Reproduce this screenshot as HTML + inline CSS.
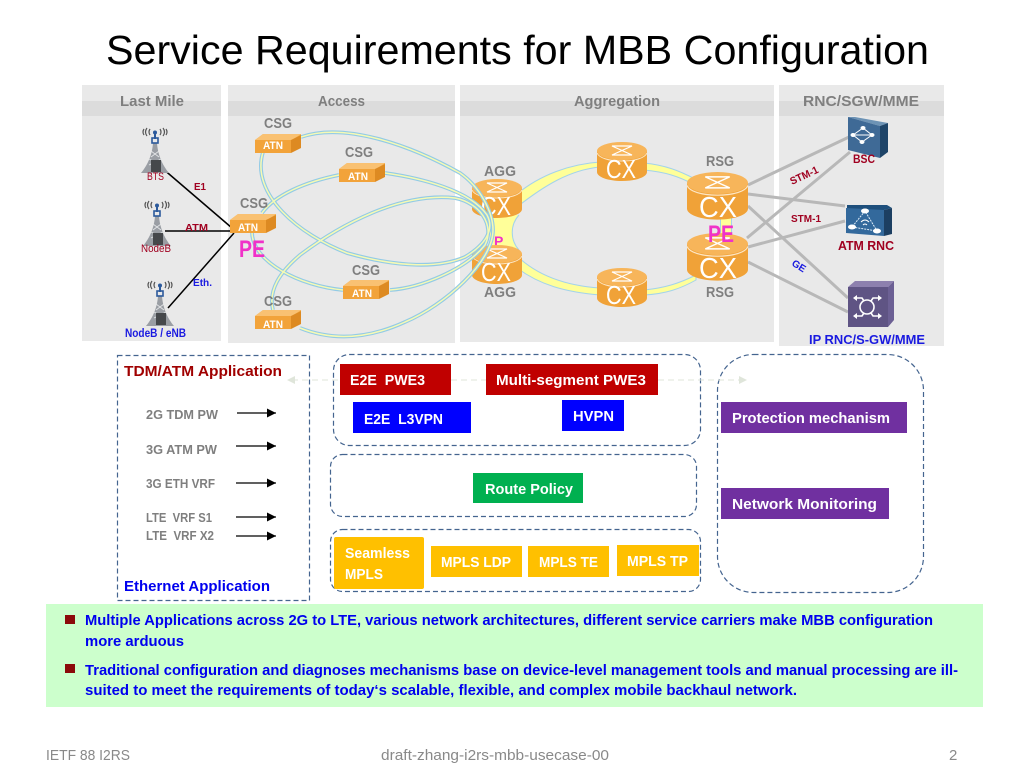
<!DOCTYPE html>
<html><head><meta charset="utf-8"><title>Service Requirements for MBB Configuration</title>
<style>
html,body{margin:0;padding:0;background:#fff;width:1024px;height:768px;overflow:hidden}
svg{display:block}
text{font-family:"Liberation Sans",sans-serif}
.b{font-weight:bold}
.g{font-weight:bold;fill:#7f7f7f;font-size:15px}
.a{font-weight:bold;fill:#fff;font-size:11px}
.w{font-weight:bold;fill:#fff;font-size:15px}
.r{font-weight:bold;fill:#7f7f7f;font-size:12.5px}
.t{font-weight:bold;fill:#0000ee;font-size:15px}
.f{fill:#898989;font-size:15px}
.cx{fill:#fff;font-size:26px}
.box{fill:none;stroke:#44648f;stroke-width:1.2;stroke-dasharray:5 3}
.c1{stroke:#93cbe6;stroke-width:3.8;fill:none}
.c2{stroke:#f6fab4;stroke-width:1.5;fill:none}
.ring{fill:#ffff99;stroke:#a3d3ea;stroke-width:1}
</style></head><body>
<svg width="1024" height="768" viewBox="0 0 1024 768" xmlns="http://www.w3.org/2000/svg">
<defs>
<g id="atn">
<path d="M0 6L8 0H46V4L36 18H0Z" fill="#f5ae4a"/>
<path d="M8 0H46L37 6H0Z" fill="#f9c172"/>
<path d="M36 6L46 1V14L36 19Z" fill="#dd8a22"/>
<rect x="0" y="6" width="36" height="13" fill="#f2a33a"/>
</g>
<g id="rt">
<path d="M0 9V30C0 35 11 39 25 39S50 35 50 30V9Z" fill="#f0a238"/>
<ellipse cx="25" cy="9" rx="25" ry="9" fill="#f7b55a"/>
<path d="M0 11C2 16 12 19 25 19S48 16 50 11" fill="none" stroke="#fde6c4" stroke-width="1"/>
<path d="M15 4H35L15 13H35Z" fill="none" stroke="#fff" stroke-width="1.2"/>
</g>
<g id="tw">
<path d="M17 16C16 30 10 40 5 46H33C28 40 22 30 21 16Z" fill="#9a9ea4"/>
<path d="M15 24L23 30M23 24L15 30M13 32L25 38M25 32L13 38" stroke="#e4e6e8" stroke-width="0.8"/>
<rect x="15" y="33" width="10" height="12" fill="#45484b"/>
<rect x="16" y="11" width="6" height="5" fill="none" stroke="#2c5a9c" stroke-width="1.6"/>
<rect x="18" y="6" width="2" height="6" fill="#2c5a9c"/>
<circle cx="19" cy="5.5" r="2" fill="#2c5a9c"/>
<path d="M14 2Q12 5 14 8M11 1Q8 5 11 9M8 2Q6 5 8 8M24 2Q26 5 24 8M27 1Q30 5 27 9M30 2Q32 5 30 8" fill="none" stroke="#555" stroke-width="1.2"/>
</g>
<marker id="ah" markerUnits="userSpaceOnUse" markerWidth="10" markerHeight="10" refX="9" refY="4.5" orient="auto"><path d="M0 0L9 4.5L0 9Z" fill="#000"/></marker>
</defs>

<text x="106" y="64" font-size="41" fill="#000" textLength="823" lengthAdjust="spacingAndGlyphs">Service Requirements for MBB Configuration</text>

<!-- panels -->
<rect x="82" y="85" width="139" height="256" fill="#e9e9e9"/>
<rect x="228" y="85" width="227" height="258" fill="#e9e9e9"/>
<rect x="460" y="85" width="314" height="257" fill="#e9e9e9"/>
<rect x="779" y="85" width="165" height="261" fill="#e9e9e9"/>
<rect x="82" y="101" width="139" height="15" fill="#dcdcdc"/>
<rect x="228" y="101" width="227" height="15" fill="#dcdcdc"/>
<rect x="460" y="101" width="314" height="15" fill="#dcdcdc"/>
<rect x="779" y="101" width="165" height="15" fill="#dcdcdc"/>
<text class="g" x="120" y="106" textLength="64" lengthAdjust="spacingAndGlyphs">Last Mile</text>
<text class="g" x="318" y="106" textLength="47" lengthAdjust="spacingAndGlyphs">Access</text>
<text class="g" x="574" y="106" textLength="86" lengthAdjust="spacingAndGlyphs">Aggregation</text>
<text class="g" x="803" y="106" textLength="116" lengthAdjust="spacingAndGlyphs">RNC/SGW/MME</text>

<!-- aggregation rings -->
<path class="ring" d="M517 194C540 175 570 164 600 162V167C570 170 545 185 517 207Z"/>
<path class="ring" d="M517 256C540 278 570 286 600 288V295C565 292 540 285 517 268Z"/>
<path class="ring" d="M644 163C665 165 680 171 695 179V185C678 176 665 172 644 170Z"/>
<path class="ring" d="M644 290C665 288 680 283 696 275V280C680 289 665 294 644 295Z"/>
<path d="M490 215H519C510 225 510 240 519 250H490Z" fill="#ffff99"/>
<path d="M519 215C510 225 510 240 519 250" fill="none" stroke="#a3d3ea" stroke-width="1"/>
<path d="M726 216V238" stroke="#a3d3ea" stroke-width="12"/>
<path d="M726 216V238" stroke="#ffff99" stroke-width="10"/>
<text class="b" x="494" y="246" font-size="14" fill="#f032c8">P</text>

<!-- gray links -->
<g stroke="#b8b8b8" stroke-width="3" fill="none">
<path d="M748 185L849 137M748 194L845 206M748 206L848 298M747 238L850 152M748 247L845 221M748 262L848 312"/>
</g>

<!-- routers -->
<use href="#rt" x="597" y="142"/>
<use href="#rt" x="597" y="268"/>
<use href="#rt" x="472" y="179"/>
<use href="#rt" x="472" y="245"/>
<use href="#rt" transform="translate(687 172) scale(1.22)"/>
<use href="#rt" transform="translate(687 233) scale(1.22)"/>
<text class="cx" x="606" y="178" textLength="30" lengthAdjust="spacingAndGlyphs">CX</text>
<text class="cx" x="606" y="304" textLength="30" lengthAdjust="spacingAndGlyphs">CX</text>
<text class="cx" x="481" y="215" textLength="30" lengthAdjust="spacingAndGlyphs">CX</text>
<text class="cx" x="481" y="281" textLength="30" lengthAdjust="spacingAndGlyphs">CX</text>
<text class="cx" x="699" y="217" textLength="38" lengthAdjust="spacingAndGlyphs" style="font-size:29px">CX</text>
<text class="cx" x="699" y="278" textLength="38" lengthAdjust="spacingAndGlyphs" style="font-size:29px">CX</text>

<!-- access curves -->
<path class="c1" d="M301 137C345 122 410 145 460 173C480 187 493 212 493 230C493 262 445 305 405 322C370 338 335 342 300 328"/>
<path class="c1" d="M385 173C420 178 470 190 487 215C495 230 485 245 465 257C440 268 400 268 347 253C300 235 250 195 263 152"/>
<path class="c1" d="M390 290C420 288 465 270 485 245C495 225 480 203 455 198C400 192 340 225 300 255C280 272 268 290 273 310"/>
<path class="c1" d="M339 175C305 182 275 195 262 213"/>
<path class="c1" d="M252 232C252 262 300 286 343 290"/>
<path class="c2" d="M301 137C345 122 410 145 460 173C480 187 493 212 493 230C493 262 445 305 405 322C370 338 335 342 300 328"/>
<path class="c2" d="M385 173C420 178 470 190 487 215C495 230 485 245 465 257C440 268 400 268 347 253C300 235 250 195 263 152"/>
<path class="c2" d="M390 290C420 288 465 270 485 245C495 225 480 203 455 198C400 192 340 225 300 255C280 272 268 290 273 310"/>
<path class="c2" d="M339 175C305 182 275 195 262 213"/>
<path class="c2" d="M252 232C252 262 300 286 343 290"/>

<!-- last mile lines -->
<g stroke="#000" stroke-width="1.5" fill="none">
<path d="M162 168L232 228M165 231H234M168 308L234 233"/>
</g>

<!-- towers -->
<use href="#tw" x="136" y="127"/>
<use href="#tw" x="138" y="200"/>
<use href="#tw" x="141" y="280"/>

<!-- ATN -->
<use href="#atn" x="255" y="134"/>
<use href="#atn" x="339" y="163"/>
<use href="#atn" x="230" y="214"/>
<use href="#atn" x="343" y="280"/>
<use href="#atn" x="255" y="310"/>
<text class="a" x="263" y="149" textLength="20" lengthAdjust="spacingAndGlyphs">ATN</text>
<text class="a" x="348" y="180" textLength="20" lengthAdjust="spacingAndGlyphs">ATN</text>
<text class="a" x="238" y="231" textLength="20" lengthAdjust="spacingAndGlyphs">ATN</text>
<text class="a" x="352" y="297" textLength="20" lengthAdjust="spacingAndGlyphs">ATN</text>
<text class="a" x="263" y="328" textLength="20" lengthAdjust="spacingAndGlyphs">ATN</text>

<text class="g" x="264" y="128" textLength="28" lengthAdjust="spacingAndGlyphs">CSG</text>
<text class="g" x="345" y="157" textLength="28" lengthAdjust="spacingAndGlyphs">CSG</text>
<text class="g" x="240" y="208" textLength="28" lengthAdjust="spacingAndGlyphs">CSG</text>
<text class="g" x="352" y="275" textLength="28" lengthAdjust="spacingAndGlyphs">CSG</text>
<text class="g" x="264" y="306" textLength="28" lengthAdjust="spacingAndGlyphs">CSG</text>
<text class="g" x="484" y="176" textLength="32" lengthAdjust="spacingAndGlyphs">AGG</text>
<text class="g" x="484" y="297" textLength="32" lengthAdjust="spacingAndGlyphs">AGG</text>
<text class="g" x="706" y="166" textLength="28" lengthAdjust="spacingAndGlyphs">RSG</text>
<text class="g" x="706" y="297" textLength="28" lengthAdjust="spacingAndGlyphs">RSG</text>

<text class="b" x="239" y="257" font-size="24" fill="#f032c8" textLength="26" lengthAdjust="spacingAndGlyphs">PE</text>
<text class="b" x="708" y="242" font-size="24" fill="#f032c8" textLength="26" lengthAdjust="spacingAndGlyphs">PE</text>

<text class="b" x="194" y="190" font-size="10.5" fill="#a00020" textLength="12" lengthAdjust="spacingAndGlyphs">E1</text>
<text class="b" x="185" y="231" font-size="10.5" fill="#a00020" textLength="23" lengthAdjust="spacingAndGlyphs">ATM</text>
<text class="b" x="193" y="286" font-size="10.5" fill="#1a1ae0" textLength="19" lengthAdjust="spacingAndGlyphs">Eth.</text>
<text x="147" y="180" font-size="11" fill="#a00020" textLength="17" lengthAdjust="spacingAndGlyphs">BTS</text>
<text x="141" y="252" font-size="11" fill="#a00020" textLength="30" lengthAdjust="spacingAndGlyphs">NodeB</text>
<text class="b" x="125" y="337" font-size="11.5" fill="#1a1ae0" textLength="61" lengthAdjust="spacingAndGlyphs">NodeB / eNB</text>

<!-- BSC icon -->
<path d="M848 117L855 117L888 123L880 126Z" fill="#6d93b5"/>
<path d="M880 126L888 123V152L880 158Z" fill="#1e4468"/>
<path d="M848 117L880 126V158L848 150Z" fill="#3f6a96"/>
<path d="M853 135L863 128L872 135L862 142ZM853 135H872" fill="none" stroke="#fff" stroke-width="1"/>
<g fill="#fff"><ellipse cx="853" cy="135" rx="2.5" ry="2"/><ellipse cx="863" cy="128" rx="2.5" ry="2"/><ellipse cx="872" cy="135" rx="2.5" ry="2"/><ellipse cx="862" cy="142" rx="2.5" ry="2"/></g>
<!-- ATM RNC icon -->
<path d="M847 205H887L892 208L884 210H847Z" fill="#1e4f7c"/>
<path d="M884 210L892 208V234L884 236Z" fill="#1c3f62"/>
<path d="M846 208L884 210V236L846 233Z" fill="#33699c"/>
<path d="M865 211L852 227L877 231Z" fill="none" stroke="#dcebf7" stroke-width="1" stroke-dasharray="2 1"/>
<g fill="#fff"><ellipse cx="865" cy="211" rx="4" ry="2.5"/><ellipse cx="852" cy="227" rx="4" ry="2.5"/><ellipse cx="877" cy="231" rx="4" ry="2.5"/></g>
<path d="M861 222Q865 218 869 222M863 225Q865 223 867 225" fill="none" stroke="#fff" stroke-width="1"/>
<!-- IP RNC icon -->
<path d="M848 287L855 281H894L888 287Z" fill="#8d80ae"/>
<path d="M888 287L894 281V320L888 327Z" fill="#6c6094"/>
<rect x="848" y="287" width="40" height="40" fill="#5f5484"/>
<circle cx="867" cy="307" r="7" fill="none" stroke="#fff" stroke-width="1.6"/>
<path d="M855 298H862L864 301M880 298H873L871 301M855 316H862L864 313M880 316H873L871 313" fill="none" stroke="#fff" stroke-width="1.6"/>
<path d="M853 298L857 295V301ZM882 298L878 295V301ZM853 316L857 313V319ZM882 316L878 313V319Z" fill="#fff"/>

<text class="b" x="853" y="163" font-size="12" fill="#a00020" textLength="22" lengthAdjust="spacingAndGlyphs">BSC</text>
<text class="b" x="838" y="250" font-size="13" fill="#a00020" textLength="56" lengthAdjust="spacingAndGlyphs">ATM RNC</text>
<text class="b" x="809" y="344" font-size="13" fill="#1a1ae0" textLength="116" lengthAdjust="spacingAndGlyphs">IP RNC/S-GW/MME</text>
<text class="b" transform="translate(792 185) rotate(-25)" font-size="10.5" fill="#a00020" textLength="30" lengthAdjust="spacingAndGlyphs">STM-1</text>
<text class="b" x="791" y="222" font-size="10.5" fill="#a00020" textLength="30" lengthAdjust="spacingAndGlyphs">STM-1</text>
<text class="b" transform="translate(791 265) rotate(32)" font-size="10" fill="#1a1ae0">GE</text>

<!-- lower left -->
<rect class="box" x="117.5" y="355.5" width="192" height="245"/>
<text class="b" x="124" y="376" font-size="15" fill="#a00000" textLength="158" lengthAdjust="spacingAndGlyphs">TDM/ATM Application</text>
<text class="b" x="124" y="591" font-size="15" fill="#0000ee" textLength="146" lengthAdjust="spacingAndGlyphs">Ethernet Application</text>
<text class="r" x="146" y="419" textLength="72" lengthAdjust="spacingAndGlyphs">2G TDM PW</text>
<text class="r" x="146" y="454" textLength="71" lengthAdjust="spacingAndGlyphs">3G ATM PW</text>
<text class="r" x="146" y="488" textLength="69" lengthAdjust="spacingAndGlyphs">3G ETH VRF</text>
<text class="r" x="146" y="522" textLength="66" lengthAdjust="spacingAndGlyphs" xml:space="preserve">LTE  VRF S1</text>
<text class="r" x="146" y="540" textLength="68" lengthAdjust="spacingAndGlyphs" xml:space="preserve">LTE  VRF X2</text>
<g stroke="#000" stroke-width="1.3">
<line x1="237" y1="413" x2="276" y2="413" marker-end="url(#ah)"/>
<line x1="236" y1="446" x2="276" y2="446" marker-end="url(#ah)"/>
<line x1="236" y1="483" x2="276" y2="483" marker-end="url(#ah)"/>
<line x1="236" y1="517" x2="276" y2="517" marker-end="url(#ah)"/>
<line x1="236" y1="536" x2="276" y2="536" marker-end="url(#ah)"/>
</g>

<!-- dashed rounded boxes -->
<rect class="box" x="333.5" y="354.5" width="367" height="91" rx="16"/>
<rect class="box" x="330.5" y="454.5" width="366" height="62" rx="12"/>
<rect class="box" x="330.5" y="529.5" width="370" height="62" rx="12"/>
<rect class="box" x="717.5" y="354.5" width="206" height="238" rx="36"/>

<!-- faint arrow -->
<g stroke="#dfe5da" stroke-width="1" stroke-dasharray="6 4" fill="none"><path d="M292 380H340M451 380H486M658 380H742"/></g>
<path d="M287 380L295 376V384Z" fill="#dfe5da"/>
<path d="M747 380L739 376V384Z" fill="#dfe5da"/>

<!-- colored boxes -->
<rect x="340" y="364" width="111" height="31" fill="#c00000"/>
<rect x="486" y="364" width="172" height="31" fill="#c00000"/>
<rect x="353" y="402" width="118" height="31" fill="#0000ff"/>
<rect x="562" y="400" width="62" height="31" fill="#0000ff"/>
<rect x="473" y="473" width="110" height="30" fill="#00b050"/>
<rect x="334" y="537" width="90" height="52" rx="2" fill="#ffc000"/>
<rect x="431" y="546" width="91" height="31" fill="#ffc000"/>
<rect x="528" y="546" width="81" height="31" fill="#ffc000"/>
<rect x="617" y="545" width="82" height="31" fill="#ffc000"/>
<rect x="721" y="402" width="186" height="31" fill="#7030a0"/>
<rect x="721" y="488" width="168" height="31" fill="#7030a0"/>
<text class="w" x="350" y="385" textLength="75" lengthAdjust="spacingAndGlyphs" xml:space="preserve">E2E  PWE3</text>
<text class="w" x="496" y="385" textLength="150" lengthAdjust="spacingAndGlyphs">Multi-segment PWE3</text>
<text class="w" x="364" y="424" textLength="79" lengthAdjust="spacingAndGlyphs" xml:space="preserve">E2E  L3VPN</text>
<text class="w" x="573" y="421" textLength="41" lengthAdjust="spacingAndGlyphs">HVPN</text>
<text class="w" x="485" y="494" textLength="88" lengthAdjust="spacingAndGlyphs">Route Policy</text>
<text class="w" x="345" y="558" textLength="65" lengthAdjust="spacingAndGlyphs">Seamless</text>
<text class="w" x="345" y="579" textLength="38" lengthAdjust="spacingAndGlyphs">MPLS</text>
<text class="w" x="441" y="567" textLength="70" lengthAdjust="spacingAndGlyphs">MPLS LDP</text>
<text class="w" x="539" y="567" textLength="59" lengthAdjust="spacingAndGlyphs">MPLS TE</text>
<text class="w" x="627" y="566" textLength="61" lengthAdjust="spacingAndGlyphs">MPLS TP</text>
<text class="w" x="732" y="423" textLength="158" lengthAdjust="spacingAndGlyphs">Protection mechanism</text>
<text class="w" x="732" y="509" textLength="145" lengthAdjust="spacingAndGlyphs">Network Monitoring</text>

<!-- bottom panel -->
<rect x="46" y="604" width="937" height="103" fill="#ccffcc"/>
<rect x="65" y="615" width="10" height="9" fill="#8b0a0a"/>
<rect x="65" y="664" width="10" height="9" fill="#8b0a0a"/>
<text class="t" x="85" y="625" textLength="848" lengthAdjust="spacingAndGlyphs">Multiple Applications across 2G to LTE, various network architectures, different service carriers make MBB configuration</text>
<text class="t" x="85" y="646" textLength="99" lengthAdjust="spacingAndGlyphs">more arduous</text>
<text class="t" x="85" y="675" textLength="873" lengthAdjust="spacingAndGlyphs">Traditional configuration and diagnoses mechanisms base on device-level management tools and manual processing are ill-</text>
<text class="t" x="85" y="695" textLength="712" lengthAdjust="spacingAndGlyphs">suited to meet the requirements of today‘s scalable, flexible, and complex mobile backhaul network.</text>

<!-- footer -->
<text class="f" x="46" y="760" textLength="84" lengthAdjust="spacingAndGlyphs">IETF 88 I2RS</text>
<text class="f" x="381" y="760" textLength="228" lengthAdjust="spacingAndGlyphs">draft-zhang-i2rs-mbb-usecase-00</text>
<text class="f" x="949" y="760">2</text>
</svg>
</body></html>
